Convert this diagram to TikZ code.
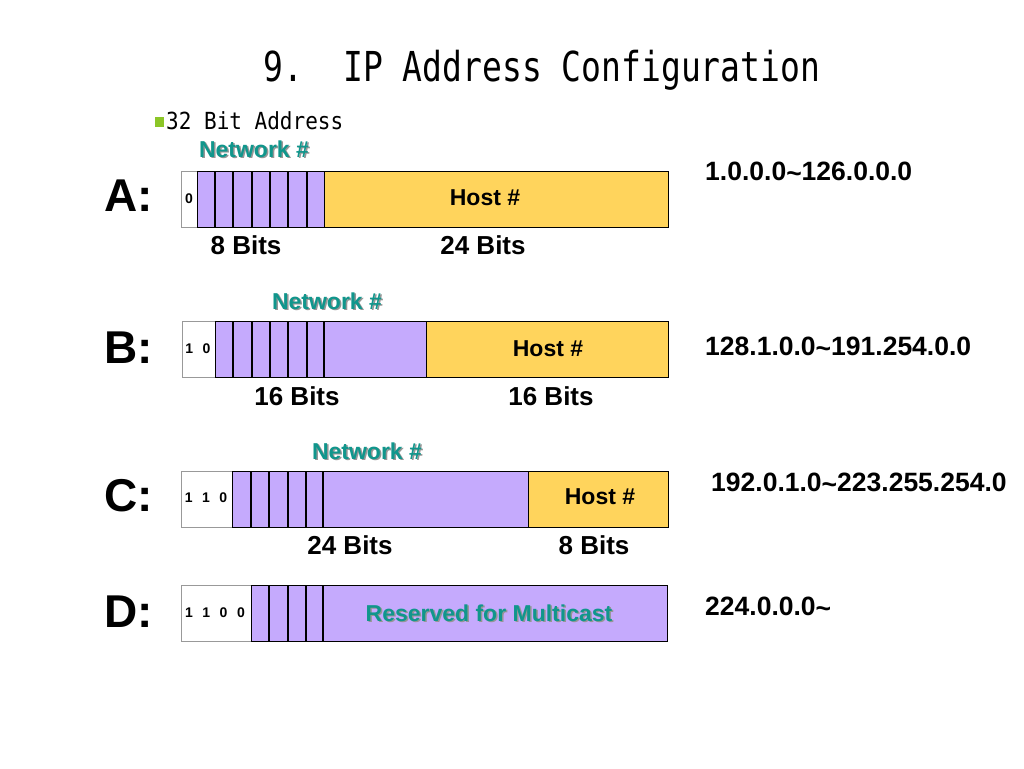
\documentclass[tikz,border=0pt]{standalone}
\usepackage{fontspec}
\setmainfont{Liberation Sans}
\newfontfamily\monofont{DejaVu Sans Mono}
\definecolor{netpurple}{RGB}{197,170,253}
\definecolor{hostyellow}{RGB}{255,212,92}
\definecolor{tealtxt}{RGB}{16,150,140}
\definecolor{shadowgray}{RGB}{150,150,150}
\definecolor{bulletgreen}{RGB}{140,198,40}
\newcommand{\fsz}[1]{\fontsize{#1}{#1}\selectfont}
\tikzset{
  fieldbox/.style={draw=black, line width=1.3pt, inner sep=0pt, anchor=north west, minimum height=56pt},
  bitbox/.style={draw=gray!80, fill=white, line width=1.3pt, inner sep=0pt, anchor=north west, minimum height=56pt},
  divider/.style={draw=black, line width=1.2pt},
  classlbl/.style={font=\fsz{46}\bfseries, inner sep=0pt},
  netlbl/.style={font=\fsz{23}\bfseries, text=tealtxt, inner sep=0pt},
  netshadow/.style={font=\fsz{23}\bfseries, text=shadowgray, inner sep=0pt},
  hostlbl/.style={font=\fsz{23}\bfseries, inner sep=0pt},
  bitslbl/.style={font=\fsz{26}\bfseries, inner sep=0pt},
  rangelbl/.style={font=\fsz{26.5}\bfseries, inner sep=0pt, anchor=west},
  digitlbl/.style={font=\fsz{14}\bfseries, inner sep=0pt},
}
\newcommand{\tl}{\raisebox{-2pt}{\textasciitilde}}
\newcommand{\dg}{\hspace{9.5pt}}
\begin{document}
\begin{tikzpicture}[x=1pt,y=-1pt]
\useasboundingbox (0,0) rectangle (1024,768);
\fill[white] (0,0) rectangle (1024,768);

% title
\node[inner sep=0pt] (title) at (542,70) {\scalebox{1}[1.25]{\monofont\fsz{33}9.\ \ IP Address Configuration}};
\fill[bulletgreen] (155,117) rectangle (164,127);
\node[inner sep=0pt, anchor=west] (sub) at (166,121) {\scalebox{1}[1.12]{\monofont\fsz{21}32 Bit Address}};

% ---------- Row A ----------
\node[classlbl] (la) at (129,196) {A:};
\node[bitbox, minimum width=16pt] (aw) at (181,171) {};
\node[fieldbox, fill=netpurple, minimum width=127pt] (an) at (197,171) {};
\node[fieldbox, fill=hostyellow, minimum width=344pt] (ah) at (324,171) {};
\foreach \x in {215,233,252,270,288,307} \draw[divider] (\x,171) -- (\x,227);
\node[digitlbl] (ad) at (189,199) {0};
\node[netshadow] (ans) at (255.5,150.5) {Network \#};
\node[netlbl] (ant) at (254,149) {Network \#};
\node[hostlbl] (aht) at (485,198) {Host \#};
\node[bitslbl] (ab1) at (246,245) {8 Bits};
\node[bitslbl] (ab2) at (483,245) {24 Bits};
\node[rangelbl] (ar) at (705,172) {1.0.0.0\tl126.0.0.0};

% ---------- Row B ----------
\node[classlbl] (lb) at (129,348) {B:};
\node[bitbox, minimum width=33pt] (bw) at (182,321) {};
\node[fieldbox, fill=netpurple, minimum width=211pt] (bn) at (215,321) {};
\node[fieldbox, fill=hostyellow, minimum width=242pt] (bh) at (426,321) {};
\foreach \x in {233,252,270,288,307,324} \draw[divider] (\x,321) -- (\x,377);
\node[digitlbl] (bd) at (198,349) {1\dg0};
\node[netshadow] (bns) at (328.5,302.5) {Network \#};
\node[netlbl] (bnt) at (327,301) {Network \#};
\node[hostlbl] (bht) at (548,349) {Host \#};
\node[bitslbl] (bb1) at (297,396) {16 Bits};
\node[bitslbl] (bb2) at (551,396) {16 Bits};
\node[rangelbl] (br) at (705,347) {128.1.0.0\tl191.254.0.0};

% ---------- Row C ----------
\node[classlbl] (lc) at (129,496) {C:};
\node[bitbox, minimum width=51pt] (cw) at (181,471) {};
\node[fieldbox, fill=netpurple, minimum width=296pt] (cn) at (232,471) {};
\node[fieldbox, fill=hostyellow, minimum width=140pt] (ch) at (528,471) {};
\foreach \x in {251,269,288,306,323} \draw[divider] (\x,471) -- (\x,527);
\node[digitlbl] (cd) at (206,498) {1\dg1\dg0};
\node[netshadow] (cns) at (368.5,452.5) {Network \#};
\node[netlbl] (cnt) at (367,451) {Network \#};
\node[hostlbl] (cht) at (600,497) {Host \#};
\node[bitslbl] (cb1) at (350,545) {24 Bits};
\node[bitslbl] (cb2) at (594,545) {8 Bits};
\node[rangelbl] (cr) at (711,483) {192.0.1.0\tl223.255.254.0};

% ---------- Row D ----------
\node[classlbl] (ld) at (129,612) {D:};
\node[bitbox, minimum width=70pt] (dw) at (181,585) {};
\node[fieldbox, fill=netpurple, minimum width=416pt] (dn) at (251,585) {};
\foreach \x in {269,288,306,323} \draw[divider] (\x,585) -- (\x,641);
\node[digitlbl] (dd) at (215,613) {1\dg1\dg0\dg0};
\node[netshadow] (drs) at (490.5,614.5) {Reserved for Multicast};
\node[netlbl] (drt) at (489,613) {Reserved for Multicast};
\node[rangelbl] (dr) at (705,607) {224.0.0.0\tl};
\end{tikzpicture}
\end{document}
